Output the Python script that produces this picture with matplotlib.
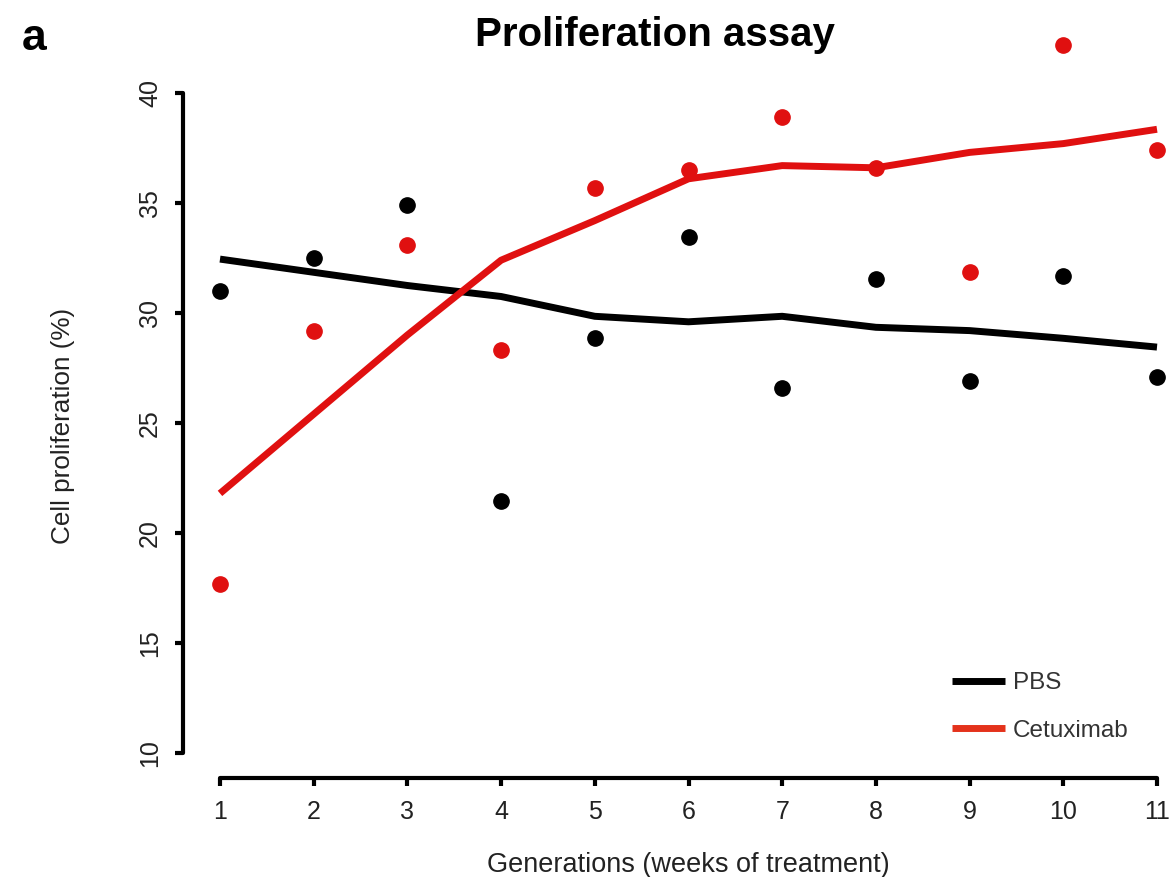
import numpy as np
import matplotlib
matplotlib.use('Agg')
import matplotlib.pyplot as plt

plt.rcParams['font.family'] = ['Liberation Sans', 'DejaVu Sans']

# Data
generations = np.arange(1, 12)

# individual measurements (points)
pbs_points = [31.0, 32.5, 34.9, 21.45, 28.85, 33.45, 26.6, 31.55, 26.9, 31.7, 27.1]
cetux_points = [17.7, 29.2, 33.1, 28.3, 35.7, 36.5, 38.9, 36.6, 31.85, 42.2, 37.4]

# smoothed trend lines
pbs_trend = [32.45, 31.85, 31.25, 30.75, 29.85, 29.6, 29.85, 29.35, 29.2, 28.85, 28.45]
cetux_trend = [21.8, 25.4, 29.0, 32.4, 34.2, 36.1, 36.7, 36.6, 37.3, 37.7, 38.35]

red = '#e01010'

fig = plt.figure(figsize=(11.74, 8.77), dpi=100)
ax = fig.add_axes([183 / 1174, 1 - 778 / 877, (1170 - 183) / 1174, (778 - 20) / 877])

# trend lines
ax.plot(generations, pbs_trend, color='black', lw=5, solid_capstyle='butt', label='PBS')
ax.plot(generations, cetux_trend, color=red, lw=5, solid_capstyle='butt', label='Cetuximab')

# points
ax.plot(generations, pbs_points, 'o', color='black', ms=11, clip_on=False)
ax.plot(generations, cetux_points, 'o', color=red, ms=11, clip_on=False)

# R-style axes
ax.set_xlim(1 - 37 / 93.7, 11 + 13 / 93.7)
ax.set_ylim(10 - 25 / 22, 40 + 73 / 22)
for s in ['top', 'right']:
    ax.spines[s].set_visible(False)
ax.spines['left'].set_bounds(10, 40)
ax.spines['bottom'].set_bounds(1, 11)
ax.spines['left'].set_linewidth(3)
ax.spines['bottom'].set_linewidth(3)
ax.spines['left'].set_capstyle('round')
ax.spines['bottom'].set_capstyle('round')

ax.set_xticks(generations)
ax.set_yticks(np.arange(10, 41, 5))
ax.tick_params(axis='both', direction='out', length=6, width=3, labelsize=18, colors='black')
ax.tick_params(axis='x', pad=10, labelcolor='#222222')
ax.tick_params(axis='y', pad=9, labelcolor='#222222')
for lab in ax.get_yticklabels():
    lab.set_rotation(90)
    lab.set_va('center')

ax.set_xlabel('Generations (weeks of treatment)', fontsize=19.5, color='#222222')
ax.xaxis.set_label_coords((688 - 183) / 987, -(865 - 778) / 758)
ax.xaxis.label.set_va('center')
ax.set_ylabel('Cell proliferation (%)', fontsize=18.8, color='#222222')
ax.yaxis.set_label_coords(-(183 - 63) / 987, (778 - 426) / 758)
ax.yaxis.label.set_va('center')

fig.text(655 / 1174, 1 - 35 / 877, 'Proliferation assay', fontsize=29, fontweight='bold',
         ha='center', va='center')
fig.text(22 / 1174, 1 - 38 / 877, 'a', fontsize=32, fontweight='bold', ha='left', va='center')

leg = ax.legend(loc='upper left', bbox_to_anchor=((952 - 183) / 987, (778 - 672) / 758),
                frameon=False, fontsize=17.5, borderpad=0, borderaxespad=0,
                handlelength=2.2, labelspacing=1.05, handletextpad=0.3)
for t in leg.get_texts():
    t.set_color('#333333')
leg.get_lines()[1].set_color('#e4321b')

fig.savefig('out.png', dpi=100)
